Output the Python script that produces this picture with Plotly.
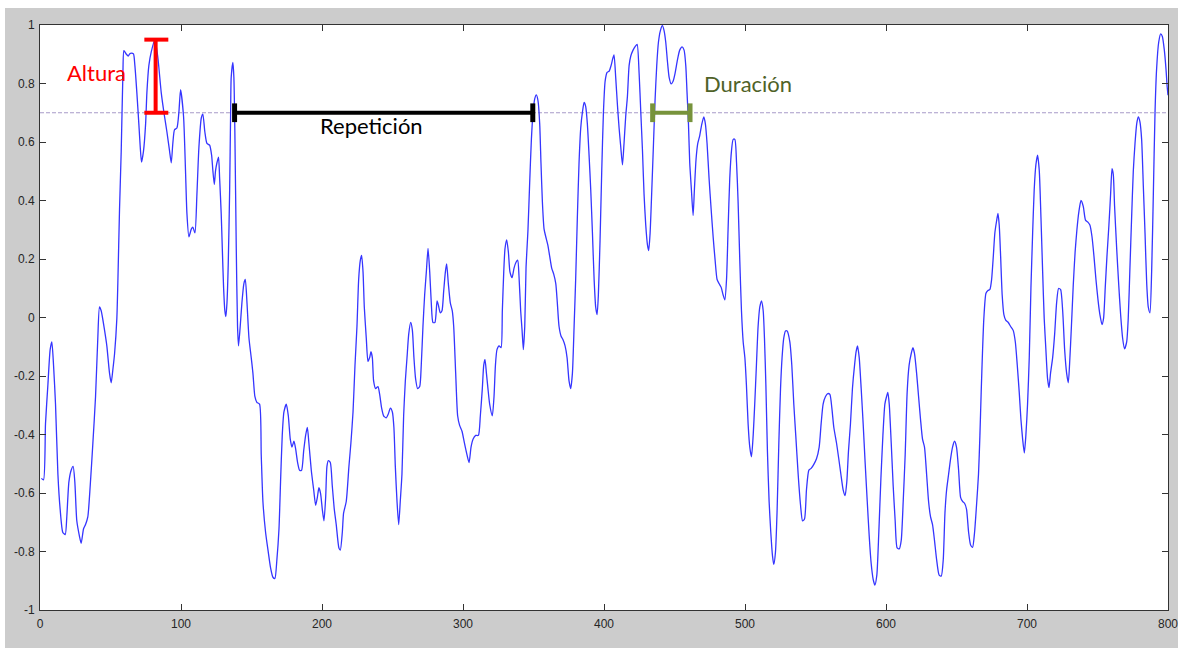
import plotly.graph_objects as go

# ---- signal data ----
x_vals = [
    1.0, 2.5, 3.9, 5.6, 7.2, 8.4, 9.6, 11.0, 12.7, 14.3, 16.2, 17.9, 19.0, 20.5, 22.1, 23.5, 24.7, 26.1, 28.0, 29.2,
    30.9, 32.3, 33.9, 35.6, 37.5, 39.4, 41.0, 42.2, 43.4, 45.8, 47.4, 49.3, 50.5, 51.7, 52.9, 54.5, 55.2, 56.4, 57.6, 58.8,
    59.5, 61.1, 62.6, 63.5, 64.9, 66.3, 67.3, 68.7, 70.1, 71.1, 72.0, 73.4, 74.9, 75.8, 77.2, 78.9, 81.5, 83.6, 86.0, 88.3,
    90.0, 91.9, 93.1, 94.2, 95.4, 97.1, 98.5, 99.7,
    101.8, 103.2, 104.2, 105.6, 107.3, 108.4, 109.9, 111.3, 112.7, 114.4, 115.5, 116.9, 118.4, 120.3, 121.7, 122.6,
    123.6, 124.5, 125.5, 126.6, 127.4, 128.5, 129.3, 130.2, 131.1, 131.8, 132.6, 133.5, 134.5, 135.2, 135.6, 136.8,
    137.5, 138.2, 139.2, 140.1, 140.8, 142.0, 143.2, 144.6, 145.6, 146.8, 148.2, 149.8, 151.0, 152.4, 153.8, 155.7,
    156.9, 158.1, 160.0, 161.9, 163.5, 165.2, 166.6, 168.0, 169.5, 170.6, 171.8, 173.0, 174.7, 176.1, 177.5, 178.7,
    180.1, 181.3, 182.7, 184.1, 185.5, 187.0, 188.4, 189.6, 190.7, 192.4, 194.1, 195.5, 196.7, 197.8, 199.0, 200.2,
    201.4, 202.6, 203.5, 204.5, 205.9, 207.3, 208.7, 210.1, 212.0,
    213.0, 214.4, 215.3, 217.2, 219.1, 220.5, 222.0, 223.4, 224.8, 226.0, 227.2, 228.1, 229.1, 230.0, 231.4, 232.6,
    233.8, 234.7, 235.7, 236.6, 238.0, 239.7, 240.9, 242.3, 243.7, 245.6, 247.0, 248.5, 249.9, 251.0, 252.0, 253.2,
    254.4, 255.5, 256.7, 257.9, 259.1, 260.3, 261.5, 262.9, 264.1, 265.2, 266.4, 267.8, 269.3, 270.4, 271.6, 272.8,
    274.0, 275.2, 276.4, 277.5, 278.7, 280.1, 281.6, 282.5, 283.9, 285.1, 286.3, 287.5, 288.4, 289.6, 291.0, 292.4,
    293.4, 294.8, 296.2, 297.6, 299.3, 301.0, 302.8, 304.3, 305.7, 307.1, 309.0, 310.9, 312.3, 313.7, 314.7, 315.6,
    316.6, 317.7,
    318.9, 320.8, 322.0, 323.0, 324.1, 325.6, 327.0, 327.9, 328.9, 329.8, 331.0, 332.2, 333.3, 334.8, 336.2, 337.6,
    338.8, 339.7, 340.9, 341.9, 342.8, 343.8, 344.7, 346.1, 347.3, 348.5, 349.7, 350.9, 352.0, 353.2, 354.4, 355.3,
    356.3, 357.5, 358.7, 360.1, 361.5, 362.9, 364.3, 365.8, 366.9, 368.1, 369.5, 371.0, 372.4, 373.8, 375.2, 376.4,
    377.6, 378.8, 379.9, 381.1, 382.3, 383.5, 384.7, 385.9, 387.0, 388.2, 389.4, 390.6, 391.8, 393.0, 394.1, 395.1,
    396.0, 397.2, 398.4, 399.6, 400.8, 402.2, 403.6, 405.0, 406.2, 407.1, 408.3, 409.5, 410.7, 411.9, 413.1, 414.2,
    415.4, 416.6, 417.8, 419.0, 420.6, 422.3, 423.5,
    424.9, 426.1, 427.3, 428.4, 429.6, 430.8, 431.7, 432.7, 433.9, 435.1, 436.2, 437.4, 438.6, 440.0, 441.4, 442.6,
    443.8, 445.0, 446.2, 447.6, 449.0, 450.4, 452.1, 453.7, 455.4, 456.8, 458.0, 458.9, 459.9, 460.8, 462.0, 463.2,
    464.1, 465.3, 466.5, 467.9, 469.4, 470.8, 471.9, 473.1, 474.5, 476.0, 477.4, 478.8, 480.2, 481.6, 483.1, 484.5,
    485.7, 486.9, 488.0, 489.2, 490.4, 491.6, 492.8, 494.0, 495.1, 496.3, 497.5, 498.7, 499.9, 501.0, 502.2, 503.4,
    504.6, 505.8, 506.9, 508.1, 509.3, 510.5, 511.7, 512.9, 513.8, 514.8, 515.9, 517.1, 518.3, 519.5, 520.4, 521.6,
    522.8, 524.0, 525.2, 526.3, 527.5, 528.7, 529.9,
    531.8, 533.2, 534.6, 536.0, 537.7, 539.4, 540.8, 542.2, 543.6, 545.3, 546.9, 548.8, 550.7, 552.6, 554.0, 555.4,
    557.1, 558.7, 560.2, 561.6, 563.0, 564.9, 566.5, 568.0, 569.6, 571.0, 572.2, 573.4, 574.8, 576.2, 577.7, 578.8,
    579.8, 581.0, 582.4, 583.8, 585.2, 586.7, 588.1, 589.5, 590.9, 592.1, 593.5, 594.9, 596.4, 597.8, 599.2, 600.4,
    601.3, 602.3, 603.7, 605.1, 606.5, 607.9, 609.4, 610.8, 612.2, 613.6, 615.0, 616.4, 617.9, 619.1, 620.2, 621.7,
    623.1, 624.5, 625.9, 627.3, 628.8, 630.2, 631.6, 633.0, 634.4, 635.9, 637.7,
    639.2, 640.6, 641.8, 643.0, 644.4, 645.8, 647.2, 648.6, 650.0, 651.5, 652.9, 654.3, 655.7, 657.1, 658.6, 660.0,
    661.4, 662.8, 664.2, 665.6, 666.6, 667.5, 668.5, 669.4, 670.9, 672.3, 673.7, 674.9, 676.1, 677.2, 678.4, 679.4,
    680.3, 681.3, 682.4, 683.6, 685.0, 686.7, 688.3, 690.2, 691.7, 693.1, 694.5, 695.7, 696.9, 698.1, 699.2, 700.4,
    701.6, 702.8, 704.0, 705.1, 706.3, 707.5, 708.7, 709.9, 711.1, 712.2, 713.4, 714.6, 715.6, 716.7, 718.2, 719.6,
    721.0, 722.4, 723.8, 725.3, 726.7, 728.1, 729.3,
    730.2, 731.5, 732.8, 734.1, 735.4, 736.8, 738.3, 739.9, 741.5, 743.2, 744.6, 746.1, 747.5, 748.9, 750.3, 751.7,
    753.2, 754.3, 755.5, 756.7, 758.1, 759.3, 760.3, 761.2, 762.1, 763.6, 765.0, 766.4, 767.8, 769.2, 770.7, 771.8,
    773.0, 774.2, 775.4, 776.6, 777.8, 778.9, 780.1, 781.3, 782.5, 783.7, 784.9, 786.0, 787.2, 788.4, 789.6, 790.8,
    791.9, 793.4, 794.8, 796.0, 797.4, 798.6, 799.4, 800.0,
]
y_vals = [
    -0.550, -0.555, -0.363, -0.230, -0.110, -0.083, -0.163, -0.296, -0.536, -0.656, -0.735, -0.742, -0.682, -0.562, -0.522, -0.509, -0.562, -0.695, -0.748, -0.772,
    -0.722, -0.708, -0.682, -0.576, -0.429, -0.270, -0.070, 0.036, 0.023, -0.044, -0.097, -0.190, -0.223, -0.177, -0.123, -0.003, 0.116, 0.369, 0.569, 0.835,
    0.912, 0.901, 0.894, 0.901, 0.904, 0.901, 0.861, 0.768, 0.662, 0.582, 0.531, 0.569, 0.662, 0.768, 0.861, 0.908, 0.950, 0.888, 0.768, 0.688,
    0.635, 0.569, 0.529, 0.595, 0.642, 0.648, 0.702, 0.779,
    0.688, 0.502, 0.356, 0.276, 0.302, 0.309, 0.289, 0.422, 0.582, 0.682, 0.695, 0.635, 0.595, 0.589, 0.555, 0.502,
    0.455, 0.502, 0.529, 0.548, 0.476, 0.356, 0.236, 0.103, 0.023, 0.003, 0.050, 0.183, 0.436, 0.702, 0.821, 0.872,
    0.821, 0.635, 0.236, -0.030, -0.097, -0.030, 0.050, 0.116, 0.130, 0.050, -0.070, -0.137, -0.190, -0.270, -0.290, -0.296,
    -0.469, -0.629, -0.735, -0.802, -0.855, -0.888, -0.892, -0.828, -0.722, -0.562, -0.403, -0.323, -0.296, -0.336, -0.416, -0.443,
    -0.423, -0.449, -0.496, -0.522, -0.522, -0.456, -0.403, -0.376, -0.429, -0.522, -0.589, -0.642, -0.615, -0.582, -0.602, -0.655,
    -0.695, -0.615, -0.509, -0.489, -0.496, -0.576, -0.655, -0.708, -0.788,
    -0.795, -0.735, -0.669, -0.629, -0.509, -0.429, -0.323, -0.163, -0.030, 0.130, 0.196, 0.212, 0.156, 0.036, -0.070, -0.150,
    -0.137, -0.117, -0.137, -0.217, -0.243, -0.236, -0.263, -0.310, -0.336, -0.343, -0.330, -0.310, -0.323, -0.376, -0.509, -0.629,
    -0.708, -0.629, -0.536, -0.336, -0.217, -0.137, -0.057, -0.017, -0.044, -0.137, -0.210, -0.243, -0.236, -0.163, -0.030, 0.077,
    0.156, 0.236, 0.156, 0.050, -0.017, -0.017, 0.057, 0.043, 0.016, 0.023, 0.090, 0.156, 0.183, 0.116, 0.050, 0.023,
    -0.030, -0.190, -0.336, -0.369, -0.389, -0.429, -0.469, -0.496, -0.443, -0.416, -0.403, -0.403, -0.336, -0.243, -0.163, -0.143,
    -0.190, -0.243,
    -0.296, -0.336, -0.270, -0.163, -0.110, -0.097, -0.103, 0.023, 0.156, 0.236, 0.265, 0.223, 0.156, 0.136, 0.169, 0.189,
    0.196, 0.143, 0.023, -0.044, -0.110, -0.030, 0.169, 0.302, 0.462, 0.609, 0.702, 0.748, 0.761, 0.741, 0.662, 0.529,
    0.396, 0.302, 0.276, 0.249, 0.209, 0.169, 0.149, 0.116, 0.050, -0.030, -0.063, -0.077, -0.097, -0.137, -0.217, -0.243,
    -0.190, -0.030, 0.130, 0.342, 0.529, 0.648, 0.702, 0.735, 0.722, 0.662, 0.556, 0.436, 0.289, 0.130, 0.036, 0.010,
    0.077, 0.263, 0.502, 0.702, 0.808, 0.838, 0.842, 0.861, 0.885, 0.898, 0.821, 0.728, 0.648, 0.582, 0.522, 0.595,
    0.688, 0.755, 0.861, 0.894, 0.914, 0.928, 0.934,
    0.835, 0.702, 0.569, 0.422, 0.316, 0.249, 0.229, 0.289, 0.436, 0.595, 0.741, 0.861, 0.941, 0.981, 0.998, 0.981,
    0.941, 0.875, 0.821, 0.799, 0.808, 0.835, 0.881, 0.914, 0.925, 0.914, 0.861, 0.768, 0.662, 0.529, 0.436, 0.349,
    0.436, 0.542, 0.595, 0.622, 0.662, 0.686, 0.662, 0.595, 0.476, 0.369, 0.276, 0.196, 0.130, 0.116, 0.103, 0.077,
    0.060, 0.130, 0.302, 0.476, 0.569, 0.609, 0.609, 0.529, 0.396, 0.196, 0.023, -0.083, -0.137, -0.230, -0.363, -0.443,
    -0.476, -0.403, -0.296, -0.163, -0.030, 0.036, 0.057, 0.023, -0.070, -0.230, -0.456, -0.629, -0.735, -0.815, -0.844, -0.802,
    -0.655, -0.429, -0.243, -0.137, -0.070, -0.046, -0.046,
    -0.083, -0.163, -0.296, -0.403, -0.536, -0.642, -0.695, -0.689, -0.589, -0.522, -0.516, -0.502, -0.483, -0.443, -0.363, -0.296,
    -0.270, -0.260, -0.263, -0.310, -0.376, -0.429, -0.483, -0.536, -0.589, -0.609, -0.562, -0.456, -0.363, -0.243, -0.163, -0.117,
    -0.097, -0.137, -0.243, -0.363, -0.496, -0.629, -0.748, -0.842, -0.895, -0.915, -0.881, -0.735, -0.549, -0.403, -0.296, -0.270,
    -0.256, -0.296, -0.429, -0.576, -0.695, -0.788, -0.791, -0.762, -0.629, -0.469, -0.256, -0.163, -0.123, -0.103, -0.123, -0.190,
    -0.270, -0.349, -0.416, -0.443, -0.536, -0.629, -0.682, -0.708, -0.762, -0.828, -0.881,
    -0.884, -0.828, -0.669, -0.589, -0.536, -0.483, -0.443, -0.423, -0.443, -0.522, -0.615, -0.629, -0.635, -0.655, -0.735, -0.778,
    -0.786, -0.735, -0.642, -0.536, -0.403, -0.256, -0.110, -0.003, 0.083, 0.092, 0.096, 0.130, 0.209, 0.289, 0.329, 0.356,
    0.316, 0.209, 0.077, 0.010, -0.010, -0.017, -0.030, -0.044, -0.083, -0.163, -0.256, -0.349, -0.416, -0.463, -0.403, -0.296,
    -0.137, 0.103, 0.289, 0.436, 0.522, 0.555, 0.502, 0.342, 0.156, -0.003, -0.110, -0.210, -0.240, -0.190, -0.137, -0.057,
    0.050, 0.099, 0.096, 0.023, -0.110, -0.190, -0.223,
    -0.160, -0.030, 0.110, 0.222, 0.300, 0.362, 0.400, 0.380, 0.333, 0.326, 0.316, 0.276, 0.209, 0.130, 0.063, 0.010,
    -0.024, -0.003, 0.103, 0.209, 0.316, 0.422, 0.509, 0.489, 0.382, 0.236, 0.116, 0.010, -0.070, -0.107, -0.083, -0.003,
    0.169, 0.342, 0.502, 0.595, 0.662, 0.686, 0.669, 0.609, 0.449, 0.289, 0.116, 0.036, 0.016, 0.156, 0.422, 0.702,
    0.848, 0.941, 0.970, 0.961, 0.914, 0.848, 0.790, 0.760,
]

# ---- axis ticks ----
x_ticks = [0, 100, 200, 300, 400, 500, 600, 700, 800]
y_ticks = [-1, -0.8, -0.6, -0.4, -0.2, 0, 0.2, 0.4, 0.6, 0.8, 1]
y_tick_labels = ["-1", "-0.8", "-0.6", "-0.4", "-0.2", "0", "0.2", "0.4", "0.6", "0.8", "1"]

# ---- annotation values ----
threshold = 0.7
altura_x = 82
altura_top = 0.95
repeticion_span = [138, 349.5]
duracion_span = [434.5, 461]
labels = ["Altura", "Repetición", "Duración"]

fig = go.Figure()

# threshold dashed line
fig.add_trace(go.Scatter(x=[x_ticks[0], x_ticks[-1]], y=[threshold, threshold], mode="lines",
                         line=dict(color="#a79ac8", width=1, dash="4px,2px"), hoverinfo="skip",
                         showlegend=False))

# signal
fig.add_trace(go.Scatter(x=x_vals, y=y_vals, mode="lines",
                         line=dict(color="#3535ff", width=1.3, shape="spline", smoothing=0.6),
                         showlegend=False))

shapes = []
# Altura I-beam (red)
red = "#ff0000"
shapes.append(dict(type="line", xref="x", yref="y", x0=altura_x, x1=altura_x, y0=threshold, y1=altura_top,
                   line=dict(color=red, width=4)))
for yy in (threshold, altura_top):
    shapes.append(dict(type="line", xref="x", yref="y", x0=altura_x - 8, x1=altura_x + 9, y0=yy, y1=yy,
                       line=dict(color=red, width=4)))

# Repetición bar (black) and Duración bar (green)
for span, col in ((repeticion_span, "#000000"), (duracion_span, "#77933c")):
    shapes.append(dict(type="line", xref="x", yref="y", x0=span[0], x1=span[1], y0=threshold, y1=threshold,
                       line=dict(color=col, width=4)))
    for xx in span:
        shapes.append(dict(type="line", xref="x", yref="y", x0=xx, x1=xx, y0=threshold - 0.032,
                           y1=threshold + 0.032, line=dict(color=col, width=5)))

# white page margin around the grey figure
PW, PH = 1128, 585
white = "#ffffff"
shapes.append(dict(type="rect", xref="paper", yref="paper", x0=-40 / PW, x1=-35 / PW, y0=-40 / PH,
                   y1=1 + 25 / PH, fillcolor=white, line=dict(width=0), layer="below"))
shapes.append(dict(type="rect", xref="paper", yref="paper", x0=-40 / PW, x1=1 + 10 / PW, y0=1 + 17 / PH,
                   y1=1 + 25 / PH, fillcolor=white, line=dict(width=0), layer="below"))
shapes.append(dict(type="rect", xref="paper", yref="paper", x0=-40 / PW, x1=1 + 10 / PW, y0=-40 / PH,
                   y1=-38 / PH, fillcolor=white, line=dict(width=0), layer="below"))

ann_font = "Lato, Open Sans, sans-serif"
annotations = [
    dict(x=40, y=0.836, xref="x", yref="y", text=labels[0], showarrow=False,
         font=dict(family=ann_font, size=22, color="#ff0000")),
    dict(x=235, y=0.655, xref="x", yref="y", text=labels[1], showarrow=False,
         font=dict(family=ann_font, size=22, color="#000000")),
    dict(x=502, y=0.80, xref="x", yref="y", text=labels[2], showarrow=False,
         font=dict(family=ann_font, size=22, color="#4f6228")),
]

axis_common = dict(showgrid=False, zeroline=False, showline=True, linecolor="#333333", linewidth=1,
                   ticks="inside", ticklen=6, tickcolor="#333333", mirror="ticks", automargin=False,
                   ticklabeloverflow="allow",
                   tickfont=dict(family="Liberation Sans, Arial, sans-serif", size=12, color="#262626"))

fig.update_layout(
    width=1178, height=650,
    margin=dict(l=40, r=10, t=25, b=40, autoexpand=False),
    paper_bgcolor="#cccccc", plot_bgcolor="#ffffff",
    shapes=shapes, annotations=annotations,
    xaxis=dict(range=[0, 800], tickvals=x_ticks, ticklabelstandoff=3, **axis_common),
    yaxis=dict(range=[-1, 1], tickvals=y_ticks, ticktext=y_tick_labels, ticklabelstandoff=2, **axis_common),
)

fig.write_html("out.html")
